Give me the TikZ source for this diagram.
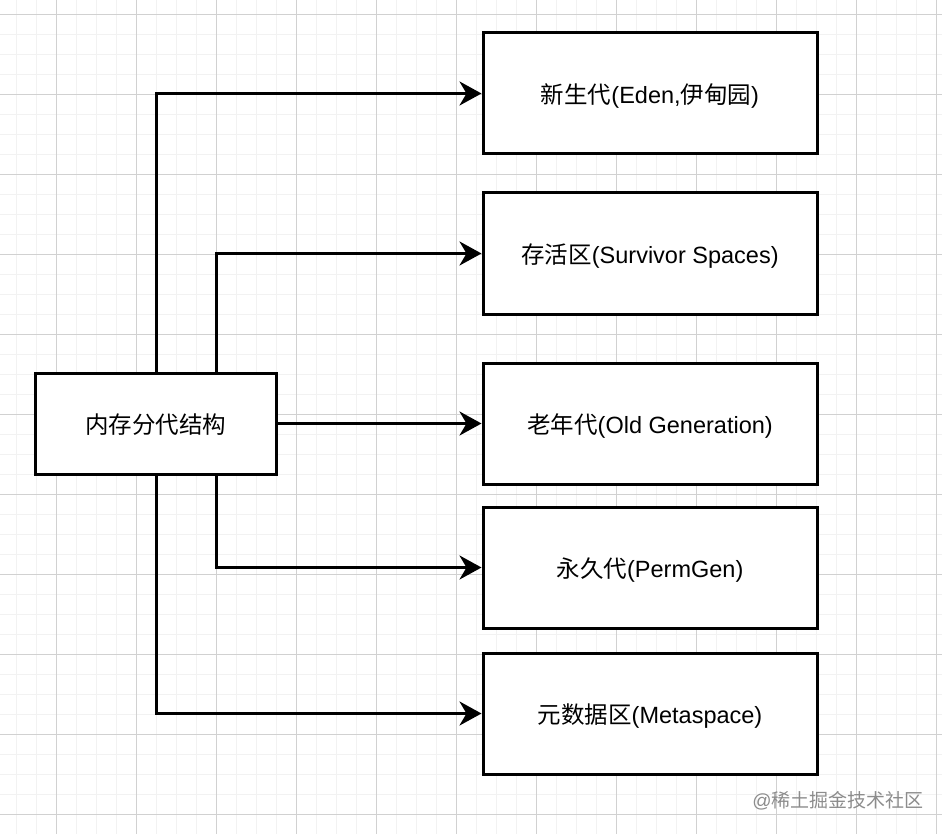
\documentclass[tikz,border=0pt]{standalone}
\usepackage{fontspec}
\setmainfont{Liberation Sans}
\newfontfamily\cjk{Noto Sans CJK SC}
\newcommand{\zh}[1]{{\cjk #1}}
\usetikzlibrary{arrows.meta}
\tikzset{
  box/.style={draw=black, line width=3pt, fill=white, minimum width=334pt, minimum height=121pt, inner sep=0pt, text height=24pt, text depth=4pt, font=\fontsize{23.5}{28}\selectfont},
  membox/.style={box, minimum width=241pt, minimum height=101pt},
  arr/.style={line width=3pt, -{Stealth[length=22pt,width=24pt,inset=7pt]}},
  minorgrid/.style={draw=black!5, line width=1pt},
  majorgrid/.style={draw=black!18, line width=1pt},
  mark text/.style={text=black!45, font=\fontsize{19}{22}\selectfont}
}
\begin{document}
\begin{tikzpicture}[x=1pt,y=-1pt]
\useasboundingbox (0,0) rectangle (942,834);
\fill[white] (0,0) rectangle (942,834);
% grid
\foreach \i in {0,...,46} {
  \pgfmathsetmacro{\xx}{16.5+20*\i}
  \draw[minorgrid] (\xx,0) -- (\xx,834);
}
\foreach \i in {0,...,41} {
  \pgfmathsetmacro{\yy}{14.5+20*\i}
  \draw[minorgrid] (0,\yy) -- (942,\yy);
}
\foreach \i in {0,...,11} {
  \pgfmathsetmacro{\xx}{56.5+80*\i}
  \draw[majorgrid] (\xx,0) -- (\xx,834);
}
\foreach \i in {0,...,10} {
  \pgfmathsetmacro{\yy}{14.5+80*\i}
  \draw[majorgrid] (0,\yy) -- (942,\yy);
}
% nodes
\node[membox] (mem) at (155.5,423.5) {\zh{内存分代结构}};
\node[box] (eden) at (650,93.5) {\zh{新生代}(Eden,\zh{伊甸园})};
\node[box] (surv) at (650,253.5) {\zh{存活区}(Survivor Spaces)};
\node[box] (old) at (650,423.5) {\zh{老年代}(Old Generation)};
\node[box] (perm) at (650,567.5) {\zh{永久代}(PermGen)};
\node[box] (meta) at (650,713.5) {\zh{元数据区}(Metaspace)};
% connectors
\draw[arr] ([xshift=0.5pt]mem.north) |- (eden.west);
\draw[arr] ([xshift=60.5pt]mem.north) |- (surv.west);
\draw[arr] (mem.east) -- (old.west);
\draw[arr] ([xshift=60.5pt]mem.south) |- (perm.west);
\draw[arr] ([xshift=0.5pt]mem.south) |- (meta.west);
% watermark
\node[mark text] (wm) at (838,801) {@\zh{稀土掘金技术社区}};
\end{tikzpicture}
\end{document}
